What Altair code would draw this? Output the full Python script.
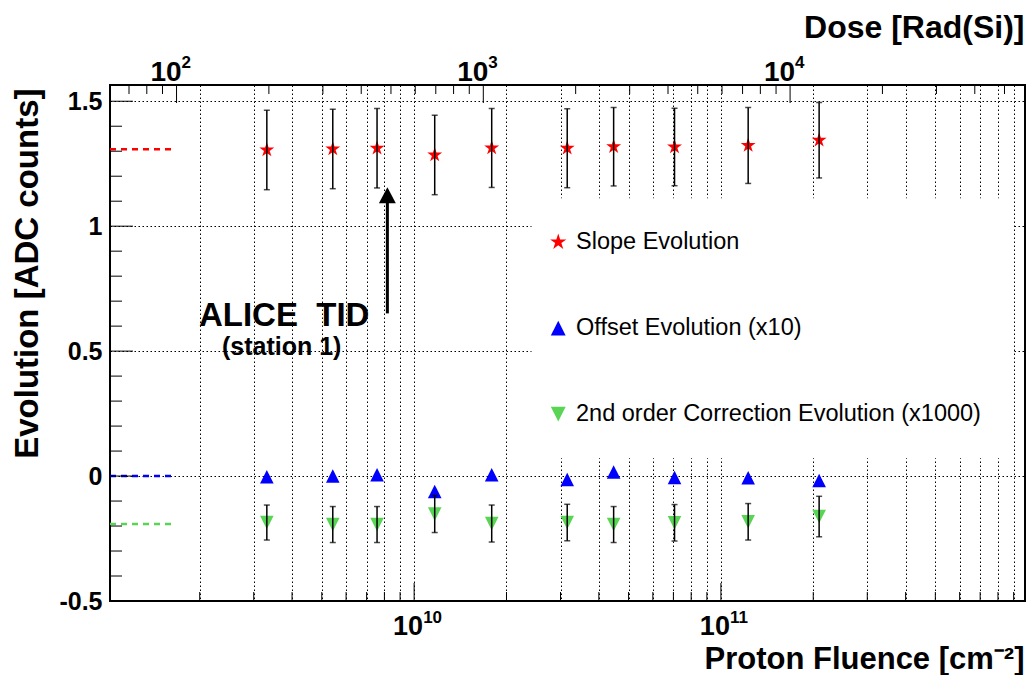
import altair as alt
import pandas as pd

# ---------------- values ----------------
fluence = [3.31e9, 5.43e9, 7.57e9, 1.167e10, 1.79e10, 3.155e10, 4.47e10, 7.06e10, 1.227e11, 2.09e11]
slope = [1.305, 1.309, 1.312, 1.285, 1.313, 1.312, 1.318, 1.317, 1.323, 1.344]
slope_err = [0.159, 0.159, 0.159, 0.159, 0.158, 0.158, 0.157, 0.155, 0.152, 0.151]
offset_x10 = [-0.003, 0.000, 0.005, -0.062, 0.005, -0.014, 0.016, -0.006, -0.007, -0.018]
second_x1000 = [-0.186, -0.194, -0.194, -0.152, -0.190, -0.186, -0.194, -0.187, -0.183, -0.162]
second_err = [0.070, 0.072, 0.072, 0.074, 0.074, 0.073, 0.072, 0.073, 0.073, 0.081]

series_names = ["Slope Evolution", "Offset Evolution (x10)", "2nd order Correction Evolution (x1000)"]
series_colors = ["#ff0000", "#0000ff", "#59d454"]

initial_values = [1.308, 0.0, -0.192]
initial_range = [1.02e9, 1.62e9]

annotation_main = ["ALICE\u00a0 TID"]
annotation_main_x = [3.77e9]
annotation_main_y = [0.602]
annotation_sub = ["(station 1)"]
annotation_sub_x = [3.70e9]
annotation_sub_y = [0.484]
arrow_x = [8.18e9]
arrow_y0 = [0.651]
arrow_y1 = [1.093]
arrow_head_y = [1.124]

# tick positions and tick labels
x_major = [1e10, 1e11]
x_major_exp = ["10", "11"]
x_minor = [2e9, 3e9, 4e9, 5e9, 6e9, 7e9, 8e9, 9e9,
           2e10, 3e10, 4e10, 5e10, 6e10, 7e10, 8e10, 9e10,
           2e11, 3e11, 4e11, 5e11, 6e11, 7e11, 8e11, 9e11]
dose_major = [100, 1000, 10000]
dose_major_exp = ["2", "3", "4"]
dose_minor = [70, 80, 90, 200, 300, 400, 500, 600, 700, 800, 900,
              2000, 3000, 4000, 5000, 6000, 7000, 8000, 9000,
              20000, 30000, 40000, 50000]
y_major = [-0.5, 0.0, 0.5, 1.0, 1.5]
y_minor = [-0.4, -0.3, -0.2, -0.1, 0.1, 0.2, 0.3, 0.4, 0.6, 0.7, 0.8, 0.9,
           1.1, 1.2, 1.3, 1.4]

x_domain = [1.02e9, 9.8e11]
dose_per_fluence = 5.95e-8
y_domain = [-0.5, 1.565]

# ---------------- layout / style ----------------
W, H = 915, 516
FONT = "Liberation Sans"
STAR = ("M0,-1.15L0.258,-0.355L1.094,-0.355L0.417,0.136L0.676,0.93L0,0.439"
        "L-0.676,0.93L-0.417,0.136L-1.094,-0.355L-0.258,-0.355Z")
TRI_UP = "M0,-1L1,1L-1,1Z"
TRI_DN = "M0,1L1,-1L-1,-1Z"
ARROW = "M0,-1L1.06,1L-1.06,1Z"

xscale = alt.Scale(type="log", domain=x_domain, nice=False)
dscale = alt.Scale(type="log", domain=[x_domain[0] * dose_per_fluence,
                                       x_domain[1] * dose_per_fluence], nice=False)
yscale = alt.Scale(domain=y_domain, nice=False, zero=False)

# ---------------- tables ----------------
rows = []
for i, f in enumerate(fluence):
    rows.append(dict(fluence=f, value=slope[i], series=series_names[0]))
    rows.append(dict(fluence=f, value=offset_x10[i], series=series_names[1]))
    rows.append(dict(fluence=f, value=second_x1000[i], series=series_names[2]))
pts = pd.DataFrame(rows)

err_rows = []
for i, f in enumerate(fluence):
    err_rows.append(dict(fluence=f, lo=slope[i] - slope_err[i], hi=slope[i] + slope_err[i]))
    err_rows.append(dict(fluence=f, lo=second_x1000[i] - second_err[i], hi=second_x1000[i] + second_err[i]))
errs = pd.DataFrame(err_rows)

refs = pd.DataFrame(dict(series=series_names, value=initial_values,
                         x0=[initial_range[0]] * 3, x1=[initial_range[1]] * 3))

x_axis = alt.Axis(
    orient="bottom", values=x_major + x_minor, labels=False,
    ticks=False, tickSize=0, domain=False,
    grid=True, gridDash=[1.5, 2.5], gridColor="black", gridWidth=1, gridOpacity=1,
    title="Proton Fluence [cm\u207b\u00b2]", titleAnchor="end", titleAlign="right",
    titleBaseline="alphabetic", titleX=W - 1, titleY=67.5, titleFontSize=31,
)
y_axis = alt.Axis(
    values=y_major,
    labelExpr="datum.value < 0 ? '-' + format(-datum.value, '~g') : format(datum.value, '~g')",
    ticks=False, tickSize=0, domain=False,
    grid=True, gridDash=[1.5, 2.5], gridColor="black", gridWidth=1, gridOpacity=1,
    labelPadding=8, labelOverlap=False, labelFlush=False,
    title="Evolution [ADC counts]", titleAngle=270, titleAnchor="end", titleAlign="right",
    titleBaseline="alphabetic", titleX=-73, titleY=3, titleFontSize=33,
)
d_axis = alt.Axis(
    orient="top", values=dose_major, labels=False,
    ticks=False, tickSize=0, domain=False, grid=False,
    title="Dose [Rad(Si)]", titleAnchor="end", titleAlign="right",
    titleBaseline="alphabetic", titleX=W - 1, titleY=-48,
)

legend = alt.Legend(
    title=None, orient="none", legendX=421.5, legendY=113.3,
    fillColor="white", padding=32, rowPadding=61,
    labelFont=FONT, labelFontSize=23.5, labelColor="black", labelFontWeight="normal",
    labelLimit=0, labelOffset=6, symbolSize=220, symbolStrokeWidth=0,
    symbolOffset=-17,
)

color_scale = alt.Scale(domain=series_names, range=series_colors)
shape_scale = alt.Scale(domain=series_names, range=[STAR, TRI_UP, TRI_DN])

X = lambda f: alt.X(f, scale=xscale)
Y = lambda f: alt.Y(f, scale=yscale)

# ---------------- layers on the fluence scale ----------------
points = alt.Chart(pts).mark_point(filled=True, opacity=1, size=185, strokeWidth=0).encode(
    x=alt.X("fluence:Q", scale=xscale, axis=x_axis),
    y=alt.Y("value:Q", scale=yscale, axis=y_axis),
    color=alt.Color("series:N", scale=color_scale, legend=legend),
    shape=alt.Shape("series:N", scale=shape_scale, legend=legend),
)

ref_layers = []
for name, col in zip(series_names, series_colors):
    ref_layers.append(
        alt.Chart(refs).transform_filter(alt.datum.series == name)
        .mark_rule(strokeDash=[6, 5], strokeWidth=2.5, color=col)
        .encode(x=X("x0:Q"), x2="x1:Q", y=Y("value:Q"))
    )

err_layer = alt.Chart(errs).mark_rule(color="black", strokeWidth=1.5).encode(
    x=X("fluence:Q"), y=Y("lo:Q"), y2="hi:Q")
cap_lo = alt.Chart(errs).mark_tick(color="black", orient="horizontal", size=6, thickness=1.5).encode(
    x=X("fluence:Q"), y=Y("lo:Q"))
cap_hi = alt.Chart(errs).mark_tick(color="black", orient="horizontal", size=6, thickness=1.5).encode(
    x=X("fluence:Q"), y=Y("hi:Q"))

arrow_df = pd.DataFrame(dict(fluence=arrow_x, y0=arrow_y0, y1=arrow_y1, yh=arrow_head_y))
arrow_shaft = alt.Chart(arrow_df).mark_rule(color="black", strokeWidth=3).encode(
    x=X("fluence:Q"), y=Y("y0:Q"), y2="y1:Q")
arrow_head = alt.Chart(arrow_df).mark_point(shape=ARROW, size=256, filled=True, color="black",
                                            opacity=1, strokeWidth=0).encode(
    x=X("fluence:Q"), y=Y("yh:Q"))

ann_main = alt.Chart(pd.DataFrame(dict(fluence=annotation_main_x, value=annotation_main_y,
                                       text=annotation_main))).mark_text(
    font=FONT, fontWeight="bold", fontSize=33, align="center", baseline="alphabetic", color="black"
).encode(x=X("fluence:Q"), y=Y("value:Q"), text="text:N")
ann_sub = alt.Chart(pd.DataFrame(dict(fluence=annotation_sub_x, value=annotation_sub_y,
                                      text=annotation_sub))).mark_text(
    font=FONT, fontWeight="bold", fontSize=25, align="center", baseline="alphabetic", color="black"
).encode(x=X("fluence:Q"), y=Y("value:Q"), text="text:N")

xt_major = alt.Chart(pd.DataFrame(dict(fluence=x_major))).mark_rule(color="black", strokeWidth=1).encode(
    x=X("fluence:Q"), y=alt.value(H), y2=alt.value(H - 18))
xt_minor = alt.Chart(pd.DataFrame(dict(fluence=x_minor))).mark_rule(color="black", strokeWidth=1).encode(
    x=X("fluence:Q"), y=alt.value(H), y2=alt.value(H - 9))
yt_major = alt.Chart(pd.DataFrame(dict(value=y_major))).mark_rule(color="black", strokeWidth=1).encode(
    y=Y("value:Q"), x=alt.value(0), x2=alt.value(23))
yt_minor = alt.Chart(pd.DataFrame(dict(value=y_minor))).mark_rule(color="black", strokeWidth=1).encode(
    y=Y("value:Q"), x=alt.value(0), x2=alt.value(12))

# power-of-ten tick labels (base and raised exponent)
xlab = pd.DataFrame(dict(fluence=x_major, exp=x_major_exp))
xl_base = alt.Chart(xlab).mark_text(font=FONT, fontWeight="bold", fontSize=27, align="right",
                                    baseline="alphabetic", dx=9, color="black").encode(
    x=X("fluence:Q"), y=alt.value(H + 34), text=alt.value("10"))
xl_exp = alt.Chart(xlab).mark_text(font=FONT, fontWeight="bold", fontSize=17, align="left",
                                   baseline="alphabetic", dx=9, color="black").encode(
    x=X("fluence:Q"), y=alt.value(H + 22), text="exp:N")

fluence_layers = alt.layer(
    points, *ref_layers, err_layer, cap_lo, cap_hi, arrow_shaft, arrow_head,
    ann_main, ann_sub, xt_major, xt_minor, yt_major, yt_minor, xl_base, xl_exp,
)

# ---------------- layers on the dose scale (top axis) ----------------
DX = lambda f: alt.X(f, scale=dscale)
dlab = pd.DataFrame(dict(dose=dose_major, exp=dose_major_exp))
dt_major = alt.Chart(dlab).mark_rule(color="black", strokeWidth=1).encode(
    x=alt.X("dose:Q", scale=dscale, axis=d_axis), y=alt.value(0), y2=alt.value(18))
dt_minor = alt.Chart(pd.DataFrame(dict(dose=dose_minor))).mark_rule(color="black", strokeWidth=1).encode(
    x=DX("dose:Q"), y=alt.value(0), y2=alt.value(9))
dl_base = alt.Chart(dlab).mark_text(font=FONT, fontWeight="bold", fontSize=28, align="right",
                                    baseline="alphabetic", dx=5, color="black").encode(
    x=DX("dose:Q"), y=alt.value(-4), text=alt.value("10"))
dl_exp = alt.Chart(dlab).mark_text(font=FONT, fontWeight="bold", fontSize=17, align="left",
                                   baseline="alphabetic", dx=5, color="black").encode(
    x=DX("dose:Q"), y=alt.value(-17), text="exp:N")
dose_layers = alt.layer(dt_major, dt_minor, dl_base, dl_exp)

chart = alt.layer(fluence_layers, dose_layers).resolve_scale(x="independent").properties(
    width=W, height=H,
    padding={"left": 102, "top": 77, "right": 1, "bottom": 74},
    autosize=alt.AutoSizeParams(type="none"),
).configure_view(
    stroke="black", strokeWidth=2,
).configure_axis(
    labelFont=FONT, labelFontWeight="bold", labelFontSize=25, labelColor="black",
    titleFont=FONT, titleFontWeight="bold", titleFontSize=32, titleColor="black",
)

chart.save("out.html", embed_options={"renderer": "svg", "actions": False})
